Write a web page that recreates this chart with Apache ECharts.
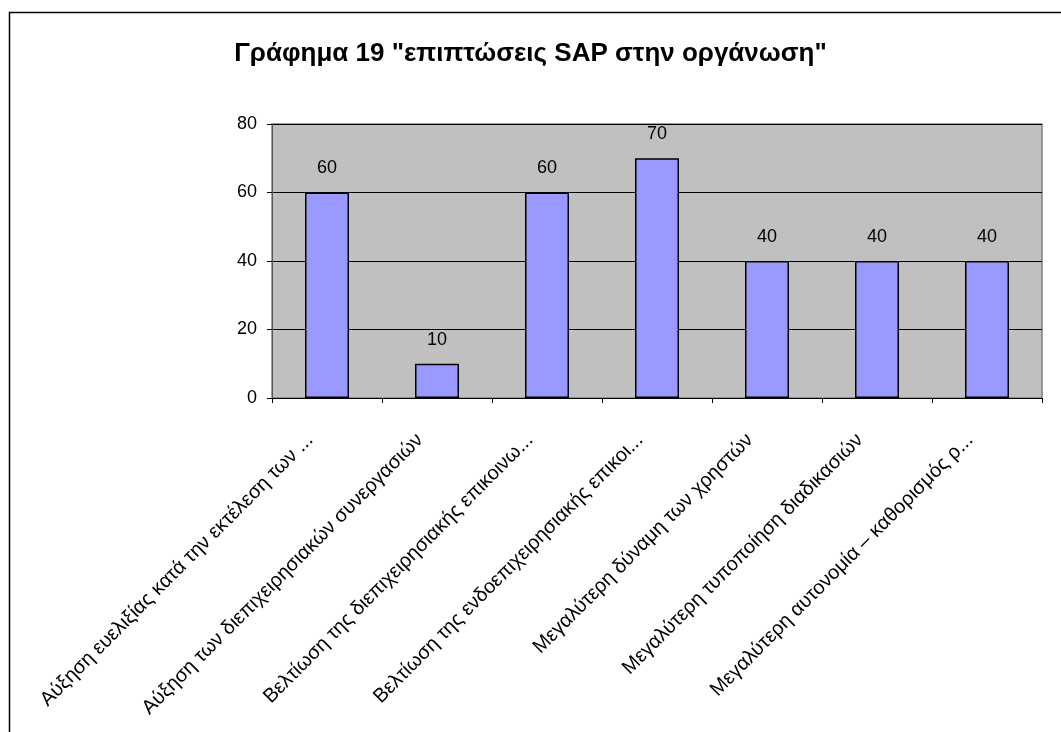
<!DOCTYPE html>
<html><head><meta charset="utf-8">
<script src="https://cdn.jsdelivr.net/npm/echarts@6/dist/echarts.min.js"></script>
<style>html,body{margin:0;padding:0;background:#fff}#c{width:1061px;height:732px}</style>
</head><body><div id="c"></div>
<script>
const titleText = 'Γράφημα 19 "επιπτώσεις SAP στην οργάνωση"';
const categories = [
  'Αύξηση ευελιξίας κατά την εκτέλεση των ...',
  'Αύξηση των διεπιχειρησιακών συνεργασιών',
  'Βελτίωση της διεπιχειρησιακής επικοινω...',
  'Βελτίωση της ενδοεπιχειρησιακής επικοι...',
  'Μεγαλύτερη δύναμη των χρηστών',
  'Μεγαλύτερη τυποποίηση διαδικασιών',
  'Μεγαλύτερη αυτονομία – καθορισμός ρ...'
];
const values = [60, 10, 60, 70, 40, 40, 40];
const yTicks = [0, 20, 40, 60, 80];

const chart = echarts.init(document.getElementById('c'), null, {renderer: 'canvas'});
chart.setOption({
  animation: false,
  backgroundColor: '#fff',
  title: {
    text: titleText, left: 'center', top: 36,
    textStyle: {fontFamily: 'Liberation Sans, Arial', fontWeight: 'bold', fontSize: 26, color: '#000'}
  },
  graphic: [{
    type: 'rect', left: 7, top: 10, shape: {width: 1100, height: 800},
    style: {fill: 'none', stroke: '#000', lineWidth: 1.5}, silent: true
  }],
  grid: {left: 272, top: 124, right: 19, bottom: 334, show: true, backgroundColor: '#C0C0C0', borderColor: '#808080', borderWidth: 1.5},
  xAxis: {
    type: 'category', data: categories,
    axisLine: {lineStyle: {color: '#000', width: 1}},
    axisTick: {show: true, alignWithLabel: false, length: 5, lineStyle: {color: '#000'}},
    axisLabel: {rotate: 45, interval: 0, margin: 22, padding: [0, 24, 0, 0], fontFamily: 'Liberation Sans, Arial', fontSize: 20, color: '#000'}
  },
  yAxis: {
    type: 'value', min: yTicks[0], max: yTicks[yTicks.length - 1], interval: 20,
    axisLine: {show: true, lineStyle: {color: '#555', width: 1}},
    axisTick: {show: true, length: 5, lineStyle: {color: '#000'}},
    splitLine: {lineStyle: {color: '#000', width: 1}},
    axisLabel: {fontFamily: 'Liberation Sans, Arial', fontSize: 18, color: '#000', margin: 15}
  },
  series: [{
    type: 'bar', data: values, barWidth: '40%',
    itemStyle: {color: '#9999FF', borderColor: '#000', borderWidth: 1.5},
    label: {show: true, position: 'top', distance: 15, fontFamily: 'Liberation Sans, Arial', fontSize: 18, color: '#000'}
  }]
});
</script></body></html>
